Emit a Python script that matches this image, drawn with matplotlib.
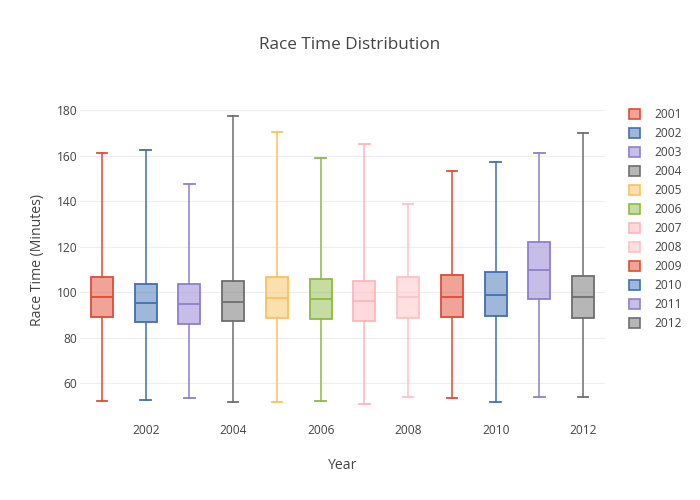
import matplotlib
matplotlib.use("Agg")
import matplotlib.pyplot as plt
from matplotlib.patches import Patch
from matplotlib.colors import to_rgba

years = [2001, 2002, 2003, 2004, 2005, 2006, 2007, 2008, 2009, 2010, 2011, 2012]
whisker_low = [52.2, 52.7, 53.7, 51.9, 51.9, 52.2, 51.0, 54.0, 53.5, 51.8, 54.0, 54.0]
q1 = [89.0, 86.8, 86.2, 87.5, 88.6, 88.3, 87.2, 88.8, 89.3, 89.6, 96.9, 88.8]
median = [97.8, 95.4, 95.0, 95.7, 97.4, 96.9, 96.0, 97.9, 98.1, 98.8, 110.0, 97.9]
q3 = [106.9, 103.8, 103.8, 105.0, 106.9, 106.0, 105.0, 106.9, 107.5, 108.8, 122.0, 107.0]
whisker_high = [161.1, 162.4, 147.7, 177.6, 170.5, 159.2, 165.2, 139.0, 153.5, 157.1, 161.1, 170.2]
colors = ["#E24A33", "#4170B2", "#8E7FD0", "#6E6E6E", "#FBC15E", "#8EBA42",
          "#FFB5B8", "#FFC2C5", "#E24A33", "#4170B2", "#8E7FD0", "#6E6E6E"]
x_ticks = [2002, 2004, 2006, 2008, 2010, 2012]
y_ticks = [60, 80, 100, 120, 140, 160, 180]

plt.rcParams['font.family'] = ['Open Sans', 'DejaVu Sans']
TXT = "#444444"

fig = plt.figure(figsize=(7, 5), dpi=100)
ax = fig.add_axes([80 / 700, 80 / 500, 525 / 700, 320 / 500])

stats = []
for i, y in enumerate(years):
    stats.append(dict(label=str(y), whislo=whisker_low[i], q1=q1[i], med=median[i],
                      q3=q3[i], whishi=whisker_high[i], fliers=[]))

bp = ax.bxp(stats, positions=years, widths=0.5, capwidths=0.245,
            patch_artist=True, showfliers=False, manage_ticks=False)

lw = 1.3
for i, c in enumerate(colors):
    box = bp['boxes'][i]
    box.set_facecolor(to_rgba(c, 0.5))
    box.set_edgecolor(c)
    box.set_linewidth(lw)
    bp['medians'][i].set_color(c)
    bp['medians'][i].set_linewidth(lw)
    for w in bp['whiskers'][2 * i:2 * i + 2]:
        w.set_color(c)
        w.set_linewidth(lw)
        w.set_alpha(0.85)
    for cp in bp['caps'][2 * i:2 * i + 2]:
        cp.set_color(c)
        cp.set_linewidth(lw)

ax.set_xlim(2000.5, 2012.5)
ax.set_ylim(43.9, 184.5)
ax.set_xticks(x_ticks)
ax.set_xticklabels([str(t) for t in x_ticks])
ax.set_yticks(y_ticks)
ax.tick_params(axis='both', length=0, labelsize=8.64, colors=TXT)
ax.tick_params(axis='y', pad=2)
ax.tick_params(axis='x', pad=3)
for s in ax.spines.values():
    s.set_visible(False)
ax.yaxis.grid(True, color="#eeeeee", linewidth=0.75)
ax.set_axisbelow(True)

ax.set_xlabel("Year", fontsize=10.1, color=TXT)
ax.xaxis.set_label_coords(0.5, -0.12)
ax.set_ylabel("Race Time (Minutes)", fontsize=10.1, color=TXT)
ax.yaxis.set_label_coords(-0.066, 0.5)

fig.text(0.5, 1 - 45 / 500, "Race Time Distribution", ha='center', va='center',
         fontsize=12.3, color=TXT)

handles = [Patch(facecolor=to_rgba(c, 0.5), edgecolor=c, linewidth=1.2) for c in colors]
fig.legend(handles, [str(y) for y in years], loc='upper left',
           bbox_to_anchor=(629 / 700, 1 - 108 / 500), frameon=False,
           fontsize=8.64, handlelength=0.95, handleheight=0.95,
           handletextpad=1.15, labelspacing=0.50, borderaxespad=0, borderpad=0,
           labelcolor=TXT)

fig.savefig("out.png", dpi=100)
